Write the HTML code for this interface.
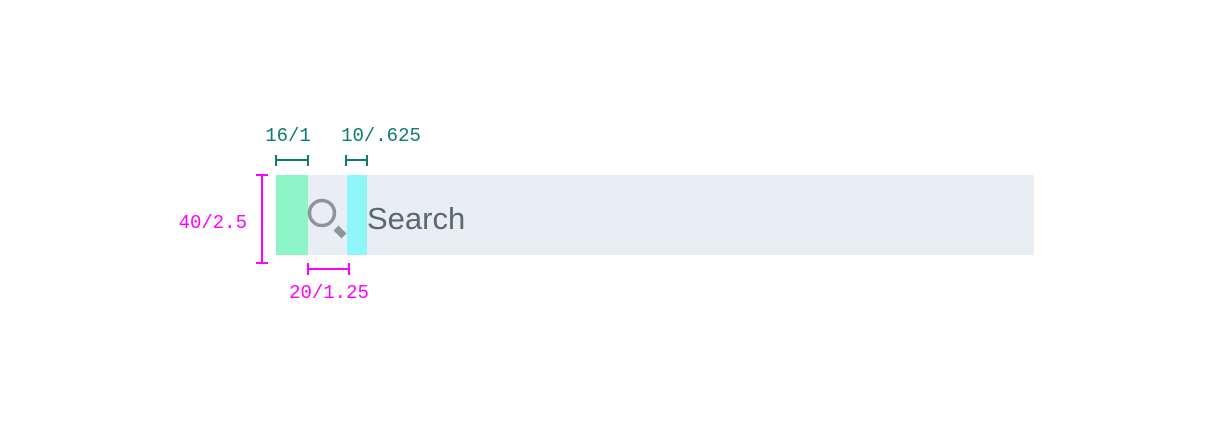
<!DOCTYPE html>
<html><head><meta charset="utf-8"><style>
body{margin:0;width:1208px;height:430px;background:#fff;overflow:hidden}
</style></head><body>
<svg width="1208" height="430" xmlns="http://www.w3.org/2000/svg">
<rect x="276" y="175" width="758" height="80" fill="#e9eef5"/>
<rect x="276" y="175" width="32" height="80" fill="#8ef5c6"/>
<rect x="347" y="175" width="20" height="80" fill="#8ef6f8"/>
<g>
<circle cx="322" cy="213" r="12.5" fill="none" stroke="#8d959c" stroke-width="3.5"/>
<line x1="336" y1="228" x2="344" y2="236" stroke="#8d959c" stroke-width="7"/>
</g>
<text x="367" y="229" font-family="Liberation Sans, sans-serif" font-size="31" fill="#5a6872">Search</text>
<g stroke="#0d7a74" stroke-width="2">
<line x1="276" y1="160" x2="308" y2="160"/><line x1="276" y1="155" x2="276" y2="166"/><line x1="308" y1="155" x2="308" y2="166"/>
<line x1="346" y1="160" x2="367" y2="160"/><line x1="346" y1="155" x2="346" y2="166"/><line x1="367" y1="155" x2="367" y2="166"/>
</g>
<text x="288" y="141" text-anchor="middle" font-family="Liberation Mono, monospace" font-size="19" fill="#0d7a74">16/1</text>
<text x="381" y="141" text-anchor="middle" font-family="Liberation Mono, monospace" font-size="19" fill="#0d7a74">10/.625</text>
<g stroke="#ff00ff" stroke-width="2">
<line x1="262" y1="175" x2="262" y2="263"/><line x1="256" y1="175" x2="268" y2="175"/><line x1="256" y1="263" x2="268" y2="263"/>
<line x1="308" y1="269" x2="349" y2="269"/><line x1="308" y1="263" x2="308" y2="275"/><line x1="349" y1="263" x2="349" y2="275"/>
</g>
<text x="247" y="228" text-anchor="end" font-family="Liberation Mono, monospace" font-size="19" fill="#ff00ff">40/2.5</text>
<text x="329" y="298" text-anchor="middle" font-family="Liberation Mono, monospace" font-size="19" fill="#ff00ff">20/1.25</text>
</svg>
</body></html>
